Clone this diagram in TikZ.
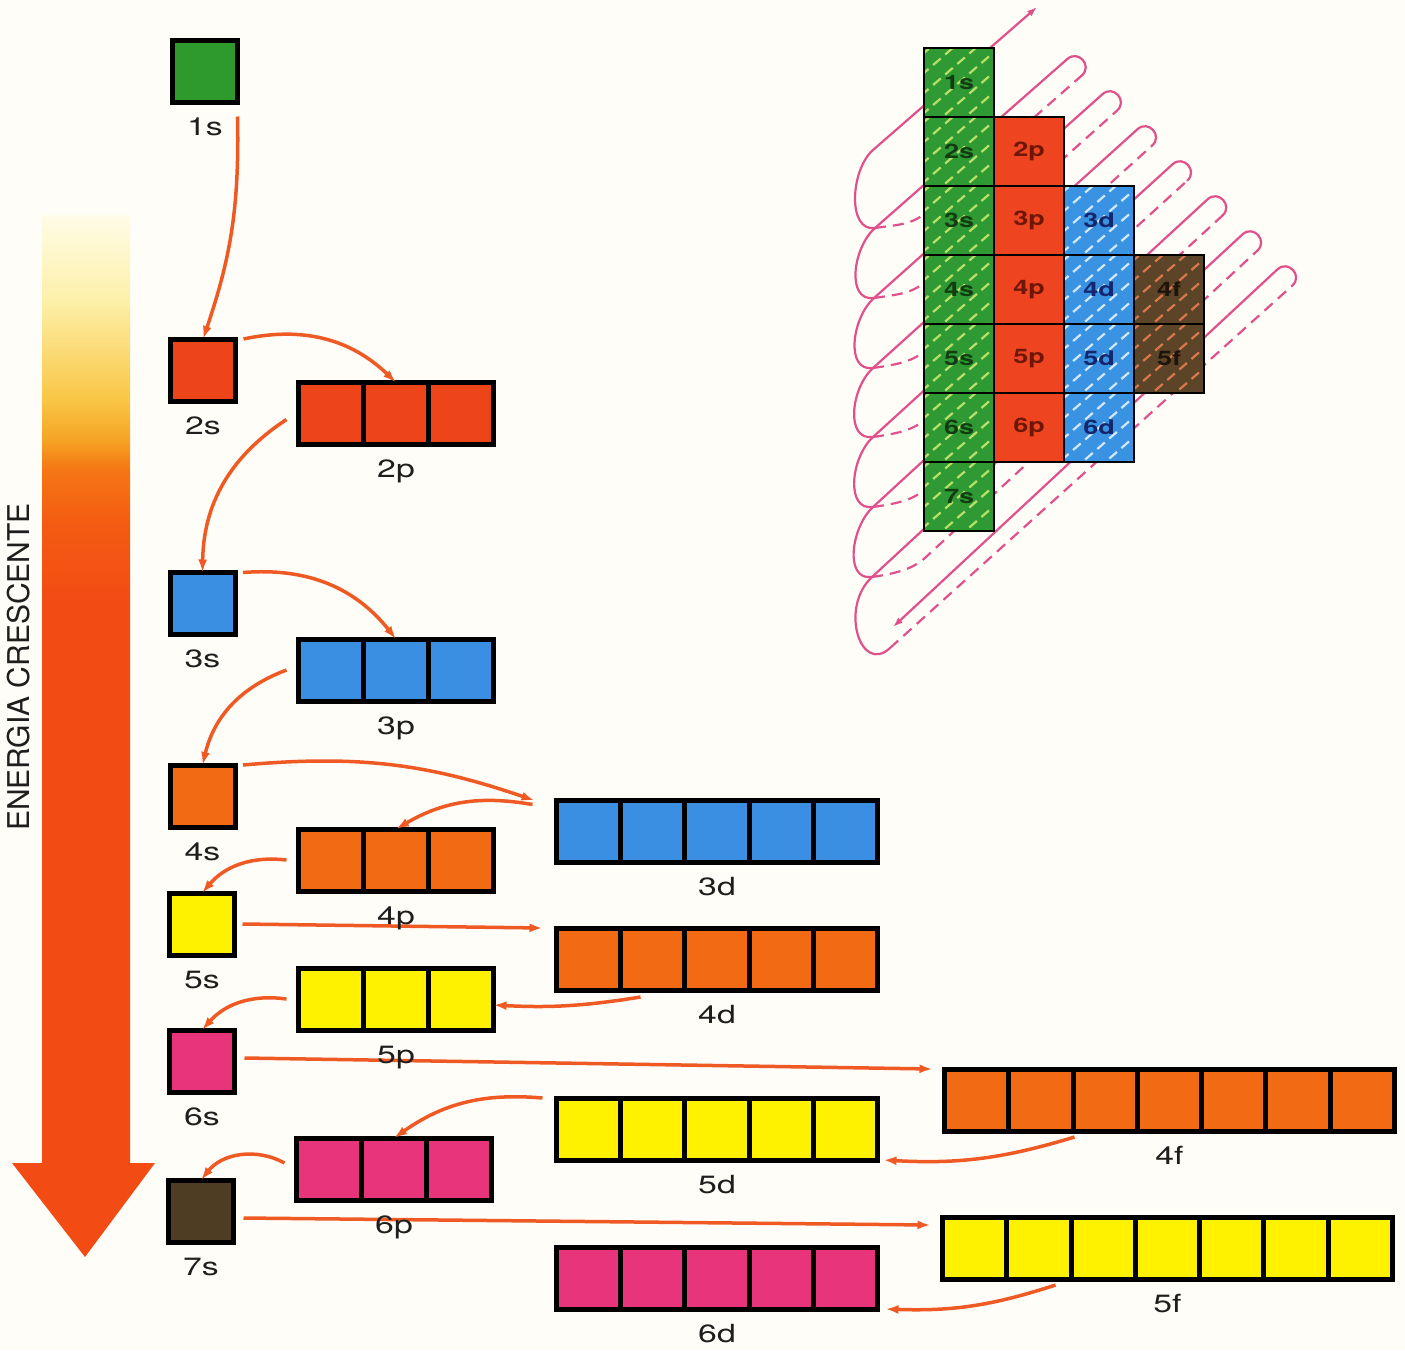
\documentclass[tikz,border=0pt]{standalone}
\usepackage{fontspec}
\setmainfont{TeX Gyre Heros}
\newfontfamily\orbfont[FakeStretch=1.35]{TeX Gyre Heros}
\usetikzlibrary{arrows.meta,calc,positioning}
\definecolor{Paper}{HTML}{FEFDF7}
\definecolor{OrbGreen}{HTML}{2E9A2E}
\definecolor{OrbRed}{HTML}{EE4419}
\definecolor{OrbBlue}{HTML}{3A8FE2}
\definecolor{OrbOrange}{HTML}{F26A14}
\definecolor{OrbYellow}{HTML}{FFF200}
\definecolor{OrbPink}{HTML}{E8347A}
\definecolor{OrbBrown}{HTML}{4E3D22}
\definecolor{FlowOrange}{HTML}{EF5A24}
\definecolor{LabelInk}{HTML}{1E1E1E}
\definecolor{HelixPink}{HTML}{E0508A}
\definecolor{TabS}{HTML}{2F9A34}
\definecolor{TabP}{HTML}{EE4520}
\definecolor{TabD}{HTML}{3A92E2}
\definecolor{TabF}{HTML}{5B4427}
\definecolor{TabSInk}{HTML}{123D12}
\definecolor{TabPInk}{HTML}{6E1608}
\definecolor{TabDInk}{HTML}{13266E}
\definecolor{TabFInk}{HTML}{1E140A}
\definecolor{TabSLine}{HTML}{B8E068}
\definecolor{TabDLine}{HTML}{CFE8FF}
\definecolor{TabFLine}{HTML}{D9784A}
\definecolor{EnRed}{HTML}{F24C14}
\definecolor{EnRedOrange}{HTML}{F45C12}
\definecolor{EnOrange}{HTML}{F57614}
\definecolor{EnAmber}{HTML}{F6A424}
\definecolor{EnGold}{HTML}{F9C646}
\definecolor{EnPale}{HTML}{FDF0A8}
\definecolor{EnCream}{HTML}{FFFCE8}
\pgfdeclareverticalshading{energyfade}{100bp}{color(0bp)=(EnRed); color(54.7bp)=(EnRed);
  color(58.9bp)=(EnRedOrange); color(61.6bp)=(EnOrange); color(63.2bp)=(EnAmber);
  color(65.3bp)=(EnGold); color(70.5bp)=(EnPale); color(75bp)=(EnCream); color(100bp)=(EnCream)}

\begin{document}
\begin{tikzpicture}[
  x=1pt,y=-1pt,font=\orbfont,>=Latex,
  orb/.style={draw=black,line width=5pt,minimum height=62pt,inner sep=0pt,outer sep=0pt},
  sorb/.style={orb,minimum width=65pt},
  porb/.style={orb,minimum width=195pt},
  dorb/.style={orb,minimum width=321pt},
  forb/.style={orb,minimum width=450pt},
  orbsplit/.style={draw=black,line width=5pt},
  lbl/.style={font=\orbfont\fontsize{25}{30}\selectfont,text=LabelInk,inner sep=0pt},
  flow/.style={-{Latex[length=13pt,width=9pt]},draw=FlowOrange,line width=3.5pt},
  tabcell/.style={draw=black,line width=2pt,minimum width=70pt,minimum height=69pt,
    inner sep=0pt,font=\orbfont\bfseries\fontsize{20}{24}\selectfont},
  cellhatch/.style={line width=2.2pt,dash pattern=on 10pt off 6pt},
  scell/.style={tabcell,fill=TabS,text=TabSInk,path picture={\hatchcell{TabSLine}}},
  pcell/.style={tabcell,fill=TabP,text=TabPInk},
  dcell/.style={tabcell,fill=TabD,text=TabDInk,path picture={\hatchcell{TabDLine}}},
  fcell/.style={tabcell,fill=TabF,text=TabFInk,path picture={\hatchcell{TabFLine}}},
  helixfront/.style={line width=2.2pt,line cap=round,line join=round},
  helixback/.style={helixfront,line cap=butt,dash pattern=on 11pt off 7pt}
]

\newcommand{\splitorb}[2]{\foreach \f in {#2}
  \draw[orbsplit] ($(#1.north west)!\f!(#1.north east)$) -- ($(#1.south west)!\f!(#1.south east)$);}

\newcommand{\hatchcell}[1]{\foreach \k in {-4,...,4}
  \draw[cellhatch,draw=#1] ([shift={(-50,{\k*20+43.5})}]path picture bounding box.center) -- +(100,-87);}

\newcommand{\drawhelix}[1]{%
  \draw[helixfront,draw=#1,{Latex[length=10pt,width=7pt]}-] (1037,7) -- (873,150)
    .. controls +(-22.6,19.7) and +(-28,4) .. (875,228);
  \draw[helixfront,draw=#1] (1081.8,75.5) .. controls +(11.0,-9.7) and +(11.0,-9.7) .. (1067.3,59.0)
    -- (875,228) .. controls +(-22.5,19.8) and +(-28,4) .. (874,298);
  \draw[helixback,draw=#1] (875,228) .. controls +(20,-3) and +(-13.5,11.9) .. (925,213.2) -- (1081.8,75.5);
  \draw[helixfront,draw=#1] (1117.1,110.6) .. controls +(10.9,-9.8) and +(10.9,-9.8) .. (1102.5,94.2)
    -- (874,298) .. controls +(-22.4,20.0) and +(-28,4) .. (873,368);
  \draw[helixback,draw=#1] (874,298) .. controls +(20,-3) and +(-13.4,12.0) .. (925,282.0) -- (1117.1,110.6);
  \draw[helixfront,draw=#1] (1152.2,145.5) .. controls +(10.9,-9.8) and +(10.9,-9.8) .. (1137.5,129.2)
    -- (873,368) .. controls +(-22.3,20.1) and +(-28,4) .. (873,437);
  \draw[helixback,draw=#1] (873,368) .. controls +(20,-3) and +(-13.4,12.1) .. (925,350.6) -- (1152.2,145.5);
  \draw[helixfront,draw=#1] (1187.3,180.6) .. controls +(10.8,-9.9) and +(10.8,-9.9) .. (1172.5,164.3)
    -- (873,437) .. controls +(-22.2,20.2) and +(-28,4) .. (873,507);
  \draw[helixback,draw=#1] (873,437) .. controls +(20,-3) and +(-13.3,12.1) .. (925,419.4) -- (1187.3,180.6);
  \draw[helixfront,draw=#1] (1222.5,215.5) .. controls +(10.8,-9.9) and +(10.8,-9.9) .. (1207.6,199.3)
    -- (873,507) .. controls +(-22.1,20.3) and +(-28,4) .. (872,577);
  \draw[helixback,draw=#1] (873,507) .. controls +(20,-3) and +(-13.2,12.2) .. (925,489.1) -- (1222.5,215.5);
  \draw[helixfront,draw=#1] (1257.4,250.6) .. controls +(10.8,-10.0) and +(10.8,-10.0) .. (1242.5,234.4)
    -- (872,577) .. controls +(-33.0,30.6) and +(-29.3,27.2) .. (890,648);
  \draw[helixback,draw=#1] (872,577) .. controls +(20,-3) and +(-13.2,12.2) .. (925,557.9) -- (1257.4,250.6);
  \draw[helixfront,draw=#1,-{Latex[length=10pt,width=7pt]}] (1292.4,285.5)
    .. controls +(10.7,-10.0) and +(10.7,-10.0) .. (1277.4,269.4) -- (893,627);
  \draw[helixback,draw=#1] (890,648) -- (1292.4,285.5);
}

\path[use as bounding box,fill=Paper] (0,0) rectangle (1405,1350);

% energy scale
\shade[shading=energyfade] (42,215) rectangle (130,1166);
\fill[EnRed] (12,1163) -- (155,1163) -- (85,1257) -- cycle;
\node[rotate=90,font=\fontsize{30}{36}\selectfont,text=LabelInk,inner sep=0pt] (energy) at (19,667)
  {ENERGIA CRESCENTE};

% orbitals in order of energy
\node[sorb,fill=OrbGreen] (o1s) at (205,71.5) {};
\node[sorb,fill=OrbRed] (o2s) at (203,370) {};
\node[porb,fill=OrbRed] (o2p) at (396,413.5) {};
\node[sorb,fill=OrbBlue] (o3s) at (202.5,603.5) {};
\node[porb,fill=OrbBlue] (o3p) at (396,670) {};
\node[sorb,fill=OrbOrange] (o4s) at (202.5,796) {};
\node[porb,fill=OrbOrange] (o4p) at (396,860) {};
\node[dorb,fill=OrbBlue] (o3d) at (717,831.5) {};
\node[sorb,fill=OrbYellow] (o5s) at (202,924) {};
\node[dorb,fill=OrbOrange] (o4d) at (717,959) {};
\node[porb,fill=OrbYellow] (o5p) at (396,999) {};
\node[sorb,fill=OrbPink] (o6s) at (202,1061) {};
\node[forb,fill=OrbOrange] (o4f) at (1169.5,1100) {};
\node[dorb,fill=OrbYellow] (o5d) at (717,1129) {};
\node[porb,fill=OrbPink] (o6p) at (394,1169) {};
\node[sorb,fill=OrbBrown] (o7s) at (201,1211) {};
\node[forb,fill=OrbYellow] (o5f) at (1167.5,1248) {};
\node[dorb,fill=OrbPink] (o6d) at (717,1278) {};

\splitorb{o2p}{1/3,2/3}
\splitorb{o3p}{1/3,2/3}
\splitorb{o4p}{1/3,2/3}
\splitorb{o5p}{1/3,2/3}
\splitorb{o6p}{1/3,2/3}
\splitorb{o3d}{1/5,2/5,3/5,4/5}
\splitorb{o4d}{1/5,2/5,3/5,4/5}
\splitorb{o5d}{1/5,2/5,3/5,4/5}
\splitorb{o6d}{1/5,2/5,3/5,4/5}
\splitorb{o4f}{1/7,2/7,3/7,4/7,5/7,6/7}
\splitorb{o5f}{1/7,2/7,3/7,4/7,5/7,6/7}

% filling order
\draw[flow] ([yshift=-14pt]o1s.south east) to[bend left=10] (o2s.north);
\draw[flow] ([xshift=8pt]o2s.north east) to[bend left=28] (o2p.north);
\draw[flow] ([xshift=-12pt,yshift=-6pt]o2p.west) to[bend right=28] (o3s.north);
\draw[flow] ([xshift=8pt]o3s.north east) to[bend left=28] (o3p.north);
\draw[flow] ([xshift=-12pt]o3p.west) to[bend right=28] (o4s.north);
\draw[flow] ([xshift=8pt]o4s.north east) to[bend left=12] ([xshift=-22pt]o3d.north west);
\draw[flow] ([xshift=-24pt,yshift=-4pt]o3d.north west) to[bend right=20] (o4p.north);
\draw[flow] ([xshift=-12pt]o4p.west) to[bend right=28] (o5s.north);
\draw[flow] ([xshift=8pt]o5s.east) -- ([xshift=-14pt]o4d.north west);
\draw[flow] ([xshift=84pt,yshift=-7pt]o4d.south west) to[bend left=6] ([yshift=-6pt]o5p.east);
\draw[flow] ([xshift=-12pt]o5p.west) to[bend right=28] (o6s.north);
\draw[flow] ([xshift=10pt,yshift=3pt]o6s.east) -- ([xshift=-12pt]o4f.north west);
\draw[flow] ([xshift=130pt,yshift=-6pt]o4f.south west) to[bend left=10] ([xshift=6pt]o5d.south east);
\draw[flow] ([xshift=-14pt]o5d.north west) to[bend right=20] (o6p.north);
\draw[flow] ([xshift=-12pt,yshift=6pt]o6p.west) to[bend right=40] (o7s.north);
\draw[flow] ([xshift=10pt,yshift=-7pt]o7s.east) -- ([xshift=-12pt,yshift=-8pt]o5f.north west);
\draw[flow] ([xshift=113pt,yshift=-6pt]o5f.south west) to[bend left=10] ([xshift=8pt]o6d.south east);

\node[lbl,below=33pt of o1s,anchor=base] (l1s) {1s};
\node[lbl,below=33pt of o2s,anchor=base] (l2s) {2s};
\node[lbl,below=33pt of o2p,anchor=base] (l2p) {2p};
\node[lbl,below=33pt of o3s,anchor=base] (l3s) {3s};
\node[lbl,below=33pt of o3p,anchor=base] (l3p) {3p};
\node[lbl,below=33pt of o4s,anchor=base] (l4s) {4s};
\node[lbl,below=33pt of o4p,anchor=base] (l4p) {4p};
\node[lbl,below=33pt of o3d,anchor=base] (l3d) {3d};
\node[lbl,below=33pt of o5s,anchor=base] (l5s) {5s};
\node[lbl,below=33pt of o4d,anchor=base] (l4d) {4d};
\node[lbl,below=33pt of o5p,anchor=base] (l5p) {5p};
\node[lbl,below=33pt of o6s,anchor=base] (l6s) {6s};
\node[lbl,below=33pt of o4f,anchor=base] (l4f) {4f};
\node[lbl,below=33pt of o5d,anchor=base] (l5d) {5d};
\node[lbl,below=33pt of o6p,anchor=base] (l6p) {6p};
\node[lbl,below=33pt of o7s,anchor=base] (l7s) {7s};
\node[lbl,below=33pt of o5f,anchor=base] (l5f) {5f};
\node[lbl,below=33pt of o6d,anchor=base] (l6d) {6d};

% diagonal rule
\drawhelix{HelixPink}

\node[scell] (t1s) at (959,82.5) {1s};
\node[scell] (t2s) at (959,151.5) {2s};
\node[scell] (t3s) at (959,220.5) {3s};
\node[scell] (t4s) at (959,289.5) {4s};
\node[scell] (t5s) at (959,358.5) {5s};
\node[scell] (t6s) at (959,427.5) {6s};
\node[scell] (t7s) at (959,496.5) {7s};
\node[pcell] (t2p) at (1029,151.5) {2p};
\node[pcell] (t3p) at (1029,220.5) {3p};
\node[pcell] (t4p) at (1029,289.5) {4p};
\node[pcell] (t5p) at (1029,358.5) {5p};
\node[pcell] (t6p) at (1029,427.5) {6p};
\node[dcell] (t3d) at (1099,220.5) {3d};
\node[dcell] (t4d) at (1099,289.5) {4d};
\node[dcell] (t5d) at (1099,358.5) {5d};
\node[dcell] (t6d) at (1099,427.5) {6d};
\node[fcell] (t4f) at (1169,289.5) {4f};
\node[fcell] (t5f) at (1169,358.5) {5f};

\end{tikzpicture}
\end{document}
